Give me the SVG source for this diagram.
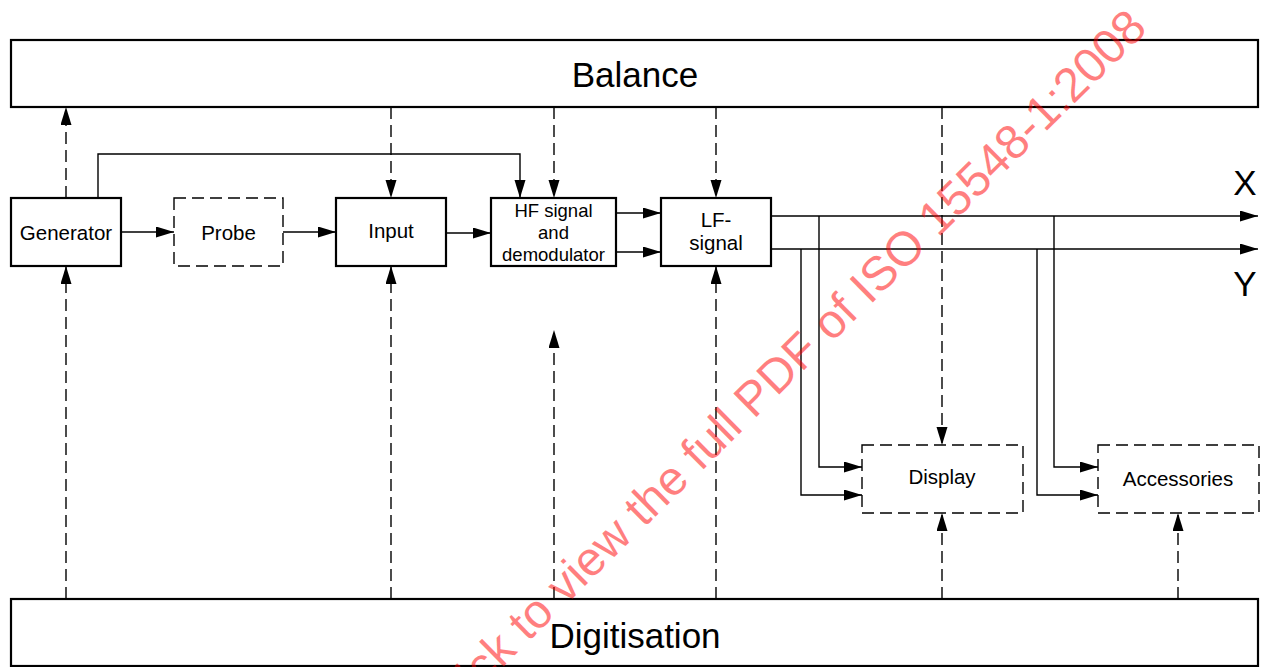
<svg xmlns="http://www.w3.org/2000/svg" width="1264" height="667" viewBox="0 0 1264 667">
<style>
.box{fill:#fff;stroke:#000;stroke-width:2.2}
.dbox{fill:#fff;stroke:#000;stroke-width:1.4;stroke-dasharray:12 6}
.ln{fill:none;stroke:#000;stroke-width:1.4}
.dl{fill:none;stroke:#000;stroke-width:1.4;stroke-dasharray:12 6}
text{font-family:"Liberation Sans",Arial,sans-serif;fill:#000;text-anchor:middle}
.big{font-size:35px}
.lbl{font-size:20.5px}
.sm{font-size:18.5px}
.wm{font-size:48px;fill:#ff0000;fill-opacity:0.5;text-anchor:end}
</style>
<defs>
<marker id="ah" markerUnits="userSpaceOnUse" markerWidth="20" markerHeight="12" refX="18" refY="5.5" orient="auto">
<path d="M0,0 L18,5.5 L0,11 z" fill="#000"/>
</marker>
</defs>

<g id="balance"><rect class="box" x="11" y="40" width="1247" height="67"/><text class="big" x="635" y="87">Balance</text></g>
<g id="digitisation"><rect class="box" x="11" y="599" width="1247" height="67"/><text class="big" x="635" y="648">Digitisation</text></g>
<g id="generator"><rect class="box" x="11" y="198" width="110" height="68"/><text class="lbl" x="66" y="240">Generator</text></g>
<g id="probe"><rect class="dbox" x="174" y="198" width="109" height="68"/><text class="lbl" x="228.5" y="240">Probe</text></g>
<g id="input"><rect class="box" x="336" y="198" width="110" height="68"/><text class="lbl" x="391" y="238">Input</text></g>
<g id="hf"><rect class="box" x="491" y="198" width="125" height="68"/><text class="sm" x="553.5" y="217">HF signal</text><text class="sm" x="553.5" y="239">and</text><text class="sm" x="553.5" y="261">demodulator</text></g>
<g id="lf"><rect class="box" x="661" y="198" width="110" height="68"/><text class="lbl" x="716" y="227">LF-</text><text class="lbl" x="716" y="250">signal</text></g>
<g id="display"><rect class="dbox" x="862" y="445" width="161" height="68"/><text class="lbl" x="942" y="484">Display</text></g>
<g id="accessories"><rect class="dbox" x="1098" y="445" width="161" height="68"/><text class="lbl" x="1178" y="486">Accessories</text></g>
<g id="labels"><text class="big" x="1245" y="195">X</text><text class="big" x="1245" y="296">Y</text></g>

<g id="connectors">
<line class="ln" x1="121" y1="232" x2="174" y2="232" marker-end="url(#ah)"/>
<line class="ln" x1="283" y1="232" x2="336" y2="232" marker-end="url(#ah)"/>
<line class="ln" x1="446" y1="233" x2="491" y2="233" marker-end="url(#ah)"/>
<line class="ln" x1="616" y1="213" x2="661" y2="213" marker-end="url(#ah)"/>
<line class="ln" x1="616" y1="252" x2="661" y2="252" marker-end="url(#ah)"/>
<polyline class="ln" points="98,198 98,154 520,154 520,198" marker-end="url(#ah)"/>
<line class="dl" x1="66" y1="198" x2="66" y2="107" marker-end="url(#ah)"/>
<line class="dl" x1="66" y1="599" x2="66" y2="266" marker-end="url(#ah)"/>
<line class="dl" x1="391" y1="107" x2="391" y2="198" marker-end="url(#ah)"/>
<line class="dl" x1="391" y1="599" x2="391" y2="266" marker-end="url(#ah)"/>
<line class="dl" x1="554" y1="107" x2="554" y2="198" marker-end="url(#ah)"/>
<line class="dl" x1="554" y1="599" x2="554" y2="330" marker-end="url(#ah)"/>
<line class="dl" x1="716" y1="107" x2="716" y2="198" marker-end="url(#ah)"/>
<line class="dl" x1="716" y1="599" x2="716" y2="266" marker-end="url(#ah)"/>
<line class="dl" x1="942" y1="107" x2="942" y2="445" marker-end="url(#ah)"/>
<line class="dl" x1="942" y1="599" x2="942" y2="513" marker-end="url(#ah)"/>
<line class="dl" x1="1178" y1="599" x2="1178" y2="513" marker-end="url(#ah)"/>
<line class="ln" x1="771" y1="216" x2="1258" y2="216" marker-end="url(#ah)"/>
<line class="ln" x1="771" y1="249" x2="1258" y2="249" marker-end="url(#ah)"/>
<polyline class="ln" points="819,216 819,467 862,467" marker-end="url(#ah)"/>
<polyline class="ln" points="801,249 801,495 862,495" marker-end="url(#ah)"/>
<polyline class="ln" points="1054,216 1054,467 1098,467" marker-end="url(#ah)"/>
<polyline class="ln" points="1037,249 1037,495 1098,495" marker-end="url(#ah)"/>
</g>

<text class="wm" transform="translate(1149,30) rotate(-44.6)">Click to view the full PDF of ISO 15548-1:2008</text>
</svg>
